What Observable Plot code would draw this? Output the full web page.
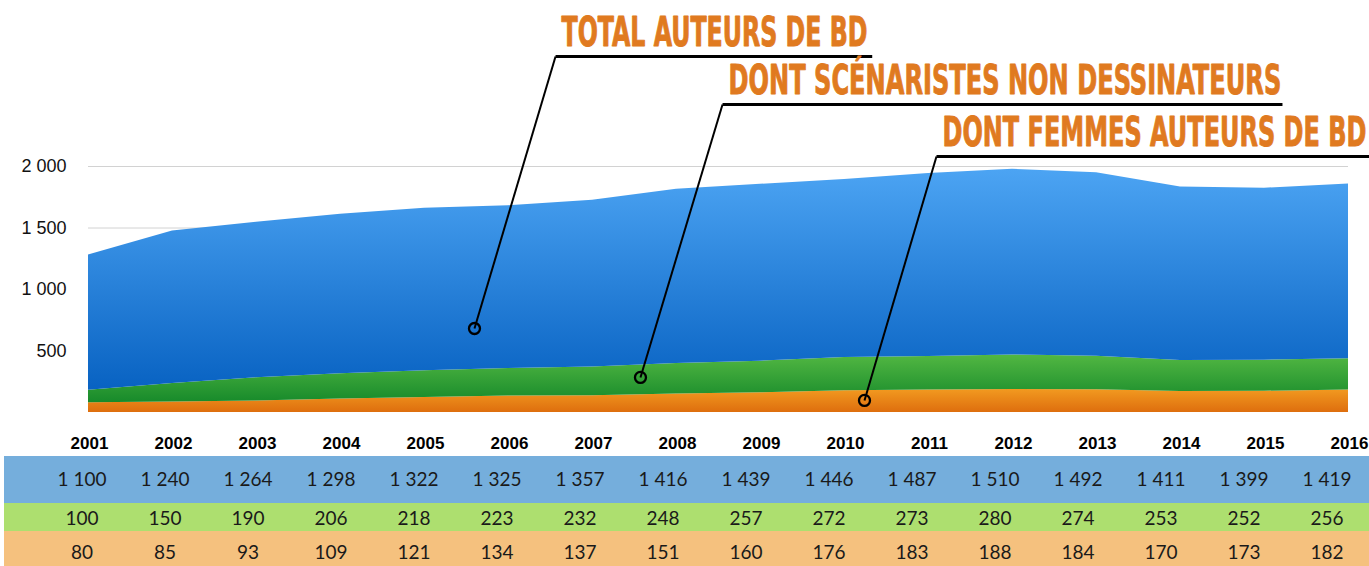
<!DOCTYPE html>
<html><head><meta charset="utf-8">
<script src="https://cdn.jsdelivr.net/npm/d3@7"></script>
<script src="https://cdn.jsdelivr.net/npm/@observablehq/plot@0.6"></script>
<style>
body{margin:0;background:#fff;}
#chart svg{display:block;}
#chart .row{margin-left:4px;}
</style></head><body><div id="chart"></div>
<script>
const years = [2001,2002,2003,2004,2005,2006,2007,2008,2009,2010,2011,2012,2013,2014,2015,2016];
const total = [1100,1240,1264,1298,1322,1325,1357,1416,1439,1446,1487,1510,1492,1411,1399,1419];
const scenaristes = [100,150,190,206,218,223,232,248,257,272,273,280,274,253,252,256];
const femmes = [80,85,93,109,121,134,137,151,160,176,183,188,184,170,173,182];
const seriesKeys = ["femmes","scenaristes","total"];
const yTicks = [500,1000,1500,2000];
const labels = ["TOTAL AUTEURS DE BD","DONT SCÉNARISTES NON DESSINATEURS","DONT FEMMES AUTEURS DE BD"];

// annotation layout (leader dot, elbow, underline end, text width)
const notes = [
  {label: labels[0], cx: 2005.595, cy: 683, ex: 2006.56, ey: 2894, ux: 2010.33, w: 306},
  {label: labels[1], cx: 2007.571, cy: 285, ex: 2008.548, ey: 2504, ux: 2015.214, w: 553},
  {label: labels[2], cx: 2010.238, cy: 98, ex: 2011.095, ey: 2081, ux: 2016.25, w: 424}
];

const fmt = d => d3.format(",")(d).replace(/,/g, " ");
const rows = years.flatMap((y, i) => [
  {year: y, series: "femmes", value: femmes[i]},
  {year: y, series: "scenaristes", value: scenaristes[i]},
  {year: y, series: "total", value: total[i]}
]);

const svg = Plot.plot({
  width: 1369, height: 456,
  marginLeft: 88, marginRight: 21, marginTop: 0, marginBottom: 44,
  x: {domain: [2001, 2016], label: null},
  y: {domain: [0, 3350], label: null},
  color: {domain: seriesKeys, range: ["url(#gOrange)", "url(#gGreen)", "url(#gBlue)"]},
  style: {fontFamily: "'Liberation Sans', Arial, sans-serif", background: "#fff", overflow: "visible"},
  marks: [
    Plot.ruleY(yTicks, {stroke: "#d2d2d2", strokeWidth: 1}),
    Plot.areaY(rows, {x: "year", y: "value", z: "series", fill: "series"}),
    Plot.axisY(yTicks, {tickFormat: fmt, tickSize: 0, tickPadding: 22, fontSize: 18, fill: "#111", label: null}),
    Plot.axisX(years, {tickFormat: d => String(d), tickSize: 0, tickPadding: 24, fontSize: 17, fontWeight: "bold", fill: "#000", dx: 1, label: null}),
    Plot.link(notes, {x1: "cx", y1: "cy", x2: "ex", y2: "ey", stroke: "#000", strokeWidth: 2}),
    Plot.link(notes, {x1: "ex", y1: "ey", x2: "ux", y2: "ey", stroke: "#000", strokeWidth: 3}),
    Plot.dot(notes, {x: "cx", y: "cy", r: 5.5, stroke: "#000", strokeWidth: 2.3, fill: "none"}),
    Plot.text(notes, {x: "ex", y: "ey", text: "label", textAnchor: "start", lineAnchor: "bottom", dx: 6, dy: -11,
      fill: "#e07a20", stroke: "#e07a20", strokeWidth: 0.9, fontSize: 40, fontWeight: "bold",
      fontFamily: "'Liberation Sans Narrow', 'DejaVu Sans Condensed', sans-serif"})
  ]
});

d3.select(svg).insert("defs", ":first-child").html(`
  <linearGradient id="gBlue" x1="0" y1="0" x2="0" y2="1"><stop offset="0" stop-color="#4ca4f3"/><stop offset="1" stop-color="#0862c2"/></linearGradient>
  <linearGradient id="gGreen" x1="0" y1="0" x2="0" y2="1"><stop offset="0" stop-color="#52b742"/><stop offset="1" stop-color="#178a2b"/></linearGradient>
  <linearGradient id="gOrange" x1="0" y1="0" x2="0" y2="1"><stop offset="0" stop-color="#f29a20"/><stop offset="1" stop-color="#de6e0e"/></linearGradient>`);

document.getElementById("chart").appendChild(svg);

// condense the annotation titles horizontally to the reference widths
d3.select(svg).selectAll("text").each(function () {
  const n = notes.find(n => n.label === this.textContent);
  if (!n) return;
  const L = this.getComputedTextLength();
  const ax = this.getBBox().x;
  const s = n.w / L;
  const t = this.getAttribute("transform") || "";
  this.setAttribute("transform", `${t} translate(${ax},0) scale(${s},1) translate(${-ax},0)`);
});

function tableRow(values, color, h, dy) {
  const s = Plot.plot({
    width: 1365, height: h,
    marginLeft: 34, marginRight: 0, marginTop: 0, marginBottom: 0,
    x: {type: "band", domain: years, padding: 0, axis: null},
    style: {background: color, fontFamily: "Lato, 'DejaVu Sans', sans-serif"},
    marks: [
      Plot.cell(years, {x: d => d, fill: color}),
      Plot.text(values, {x: (d, i) => years[i], text: d => fmt(d), fontSize: 19, fill: "#1a1a1a", frameAnchor: "middle", dy})
    ]
  });
  s.classList.add("row");
  document.getElementById("chart").appendChild(s);
}
tableRow(total, "#75aedc", 47, 0);
tableRow(scenaristes, "#addf6f", 28, 1);
tableRow(femmes, "#f5c17e", 35, 4);
</script>
</body></html>
